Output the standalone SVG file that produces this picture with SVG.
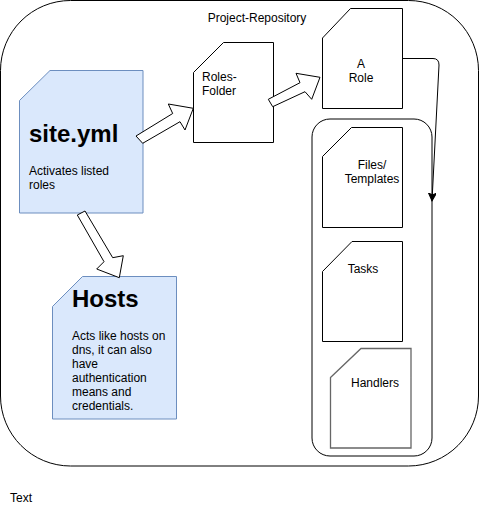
<svg xmlns="http://www.w3.org/2000/svg" width="480" height="508" viewBox="0 0 480 508">
<defs>
<style>
text{font-family:"Liberation Sans",Arial,Helvetica,sans-serif;font-size:12px;fill:#000}
.big{font-size:24px;font-weight:bold}
.mid{text-anchor:middle}
.card{fill:#fff;stroke:#000;stroke-width:1}
.blue{fill:#dae8fc;stroke:#6c8ebf;stroke-width:1}
.barrow{fill:#fff;stroke:#000;stroke-width:1;stroke-linejoin:miter}
.line{fill:none;stroke:#000;stroke-width:1}
</style>
<marker id="ah" markerWidth="10" markerHeight="10" refX="8" refY="4" orient="auto" markerUnits="userSpaceOnUse">
<path d="M0,0 L8,4 L0,8 L2,4 Z" fill="#000" stroke="#000" stroke-width="1"/>
</marker>
</defs>
<rect width="480" height="508" fill="#fff"/>
<g id="project-repository">
<rect x="0.5" y="0.5" width="478" height="465.5" rx="70" ry="70" fill="#fff" stroke="#000" stroke-width="1"/>
<text class="mid" x="257" y="22">Project-Repository</text>
</g>
<g id="role-container">
<rect x="312" y="119" width="120" height="337" rx="18" ry="18" fill="#fff" stroke="#000" stroke-width="1"/>
</g>
<g id="site-yml">
<path class="blue" d="M19.5,100.5 L50,70.5 L143,70.5 L143,213 L19.5,213 Z"/>
<text class="big" x="29" y="142">site.yml</text>
<text x="29" y="175">Activates listed</text>
<text x="29" y="189">roles</text>
</g>
<g id="hosts">
<path class="blue" d="M52.5,306.5 L82.5,276.5 L176.5,276.5 L176.5,419 L52.5,419 Z"/>
<text class="big" x="72" y="307">Hosts</text>
<text x="72" y="340">Acts like hosts on</text>
<text x="72" y="354">dns, it can also</text>
<text x="72" y="367.5">have</text>
<text x="72" y="381.5">authentication</text>
<text x="72" y="395.5">means and</text>
<text x="72" y="409.5">credentials.</text>
</g>
<g id="roles-folder">
<path class="card" d="M193.5,72.5 L223.5,42.5 L273.5,42.5 L273.5,142.5 L193.5,142.5 Z"/>
<text x="202" y="81">Roles-</text>
<text x="202" y="95">Folder</text>
</g>
<g id="a-role">
<path class="card" d="M322.5,38 L350.5,8.5 L402.5,8.5 L402.5,108.5 L322.5,108.5 Z"/>
<text class="mid" x="361" y="68">A</text>
<text class="mid" x="361" y="82">Role</text>
</g>
<g id="files-templates">
<path class="card" d="M322.5,156.5 L351.5,127.5 L402.5,127.5 L402.5,227.5 L322.5,227.5 Z"/>
<text class="mid" x="372" y="168.5">Files/</text>
<text class="mid" x="372" y="182.5">Templates</text>
</g>
<g id="tasks">
<path class="card" d="M322.5,271.5 L352,241.5 L402.5,241.5 L402.5,341.5 L322.5,341.5 Z"/>
<text class="mid" x="363" y="272.5">Tasks</text>
</g>
<g id="handlers">
<path d="M330.5,377.5 L361,348.5 L411,348.5 L411,448 L330.5,448 Z" fill="#fff" stroke="#666" stroke-width="1.3"/>
<text class="mid" x="375" y="387">Handlers</text>
</g>
<g id="connectors">
<polygon class="barrow" points="136,136 172.7,113.5 168.3,104 193.3,108.3 185,130 180,121.7 142.7,143.3"/>
<polygon class="barrow" points="77.3,215 85,211 112.7,257.7 123.3,255.7 119.3,277.7 96.7,269 104,261.7"/>
<polygon class="barrow" points="268.3,99.3 300,82.7 296,73.3 320,77.3 311.7,99.3 305,91.7 272.7,106.7"/>
<path class="line" d="M402.5,58.5 L433,58.5 Q439,58.5 439,65 L432,201" marker-end="url(#ah)"/>
</g>
<g id="text-label">
<text x="10" y="502">Text</text>
</g>
</svg>
